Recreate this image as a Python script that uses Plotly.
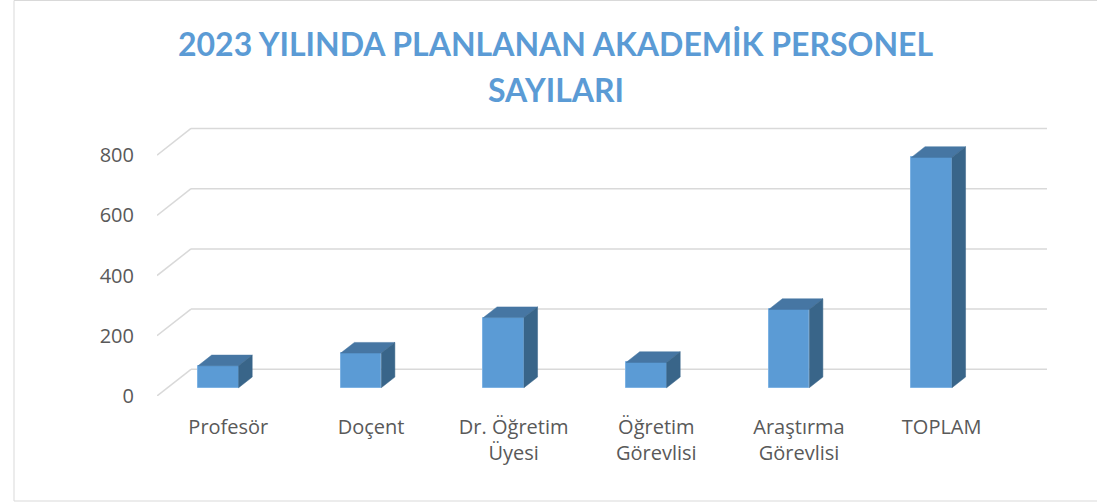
import plotly.graph_objects as go

# ---- data ----
categories = ["Profesör", "Doçent", "Dr. Öğretim<br>Üyesi", "Öğretim<br>Görevlisi",
              "Araştırma<br>Görevlisi", "TOPLAM"]
values = [73, 115, 233, 84, 260, 765]
y_ticks = [0, 200, 400, 600, 800]
title_line1 = "2023 YILINDA PLANLANAN AKADEMİK PERSONEL"
title_line2 = "SAYILARI"

# ---- geometry / style constants ----
W, H = 1097, 502
ML, MR, MT, MB = 157, 50, 125, 106
n = len(categories)
back_dx = 34 / 142.67          # depth offset of back wall, x units
back_dy = 88.6                 # depth offset of back wall, value units
y_max = 900
bar_w = 0.284
bar_shift = -0.070
bar_base = 0.31 * back_dy
bar_ddx = 0.40 * back_dx
bar_ddy = 0.40 * back_dy

FRONT = "#5B9BD5"
TOP = "#4676A3"
SIDE = "#396589"
GRID = "#D9D9D9"
BLUE_TITLE = "#5B9BD5"

fig = go.Figure()

centers = [i + 0.5 + bar_shift for i in range(n)]

# front faces
fig.add_trace(go.Bar(
    x=centers, y=values, base=[bar_base] * n, width=[bar_w] * n,
    marker=dict(color=FRONT, line=dict(color="#7DB2E3", width=1)),
    hoverinfo="skip", showlegend=False,
))

# top and side faces
tx, ty, sx, sy = [], [], [], []
for c, v in zip(centers, values):
    x0, x1 = c - bar_w / 2, c + bar_w / 2
    yt = bar_base + v
    tx += [x0, x1, x1 + bar_ddx, x0 + bar_ddx, x0, None]
    ty += [yt, yt, yt + bar_ddy, yt + bar_ddy, yt, None]
    sx += [x1, x1 + bar_ddx, x1 + bar_ddx, x1, x1, None]
    sy += [bar_base, bar_base + bar_ddy, yt + bar_ddy, yt, bar_base, None]

fig.add_trace(go.Scatter(x=tx, y=ty, fill="toself", fillcolor=TOP, mode="lines",
                         line=dict(color=TOP, width=0.5), hoverinfo="skip", showlegend=False))
fig.add_trace(go.Scatter(x=sx, y=sy, fill="toself", fillcolor=SIDE, mode="lines",
                         line=dict(color=SIDE, width=0.5), hoverinfo="skip", showlegend=False))

# 3D gridlines (slanted side wall + back wall)
for t in y_ticks:
    fig.add_shape(type="line", xref="x", yref="y", x0=0, y0=t, x1=back_dx, y1=t + back_dy,
                  line=dict(color=GRID, width=1.5), layer="below")
    fig.add_shape(type="line", xref="x", yref="y", x0=back_dx, y0=t + back_dy,
                  x1=n + back_dx, y1=t + back_dy,
                  line=dict(color=GRID, width=1.5), layer="below")

# chart border
pw, ph = W - ML - MR, H - MT - MB
fig.add_shape(type="rect", xref="paper", yref="paper",
              x0=(14 - ML) / pw, x1=(1105 - ML) / pw,
              y0=(H - MB - 501) / ph, y1=(H - MB - 0.5) / ph,
              line=dict(color=GRID, width=1), fillcolor="rgba(0,0,0,0)", layer="below")

# title (two lines)
fig.add_annotation(text=f"<b>{title_line1}</b>", xref="paper", yref="paper",
                   x=(555.5 - ML) / pw, y=(H - MB - 43) / ph, xanchor="center", yanchor="middle",
                   showarrow=False, font=dict(family="Lato", size=32, color=BLUE_TITLE))
fig.add_annotation(text=f"<b>{title_line2}</b>", xref="paper", yref="paper",
                   x=(555.5 - ML) / pw, y=(H - MB - 89.5) / ph, xanchor="center", yanchor="middle",
                   showarrow=False, font=dict(family="Lato", size=32, color=BLUE_TITLE))

fig.update_layout(
    width=W, height=H,
    margin=dict(l=ML, r=MR, t=MT, b=MB),
    paper_bgcolor="white", plot_bgcolor="white",
    xaxis=dict(range=[0, n + back_dx], tickvals=[i + 0.5 for i in range(n)],
               ticktext=categories, showgrid=False, zeroline=False, showline=False,
               ticks="", ticklabelstandoff=17, fixedrange=True,
               tickfont=dict(family="Open Sans", size=20, color="#595959")),
    yaxis=dict(range=[0, y_max], tickvals=y_ticks, showgrid=False, zeroline=False,
               showline=False, ticks="", ticklabelstandoff=22, fixedrange=True,
               tickfont=dict(family="Open Sans", size=20, color="#595959")),
    bargap=0,
)

fig.write_html("out.html", config={"displayModeBar": False},
               post_script="document.body.style.margin='0';document.body.style.overflow='hidden';")
